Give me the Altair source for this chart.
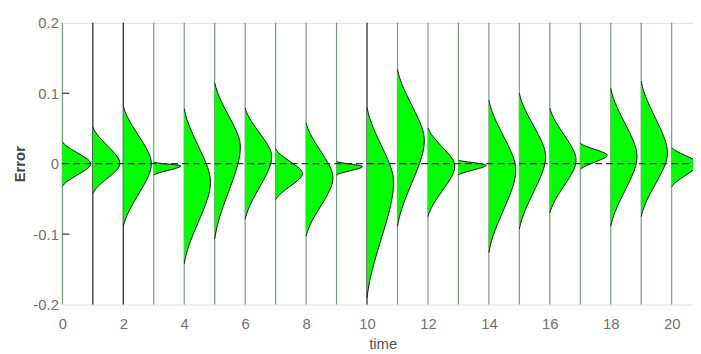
import altair as alt
import pandas as pd

# ---- data ----
times = list(range(21))
peak_err = [0.0, 0.0, 0.0, -0.003, -0.026, 0.024, 0.010, -0.014, -0.020, -0.004, -0.026,
            0.033, -0.003, -0.002, -0.009, 0.010, 0.005, 0.012, 0.010, 0.015, 0.0]
top_err = [0.031, 0.052, 0.082, 0.002, 0.078, 0.115, 0.079, 0.021, 0.058, 0.003, 0.080,
           0.134, 0.051, 0.005, 0.090, 0.100, 0.079, 0.029, 0.107, 0.117, 0.023]
bottom_err = [-0.032, -0.042, -0.089, -0.016, -0.142, -0.107, -0.079, -0.051, -0.103, -0.016, -0.190,
              -0.089, -0.075, -0.016, -0.126, -0.093, -0.070, -0.008, -0.089, -0.075, -0.033]
peak_width = [0.94, 0.90, 0.93, 0.90, 0.87, 0.85, 0.88, 0.89, 0.89, 0.86, 0.88,
              0.89, 0.89, 0.92, 0.89, 0.87, 0.87, 0.89, 0.87, 0.87, 0.88]
dark_lines = [1, 2, 10]

# common outline profile of one density (fraction of way from peak to tail, relative width)
profile_frac = [0.0, 0.1, 0.2, 0.35, 0.5, 0.65, 0.8, 0.9, 1.0]
profile_width = [1.0, 0.97, 0.89, 0.72, 0.52, 0.32, 0.15, 0.06, 0.0]

x_ticks = [0, 2, 4, 6, 8, 10, 12, 14, 16, 18, 20]
y_ticks = [-0.2, -0.1, 0.0, 0.1, 0.2]
x_max = 20.7

# ---- build tables ----
rows = []
k = 0
for i, t in enumerate(times):
    for f, w in zip(reversed(profile_frac), reversed(profile_width)):
        rows.append(dict(t=t, k=k, err=peak_err[i] + f * (bottom_err[i] - peak_err[i]),
                         xr=t + w * peak_width[i], x0=t))
        k += 1
    for f, w in zip(profile_frac[1:], profile_width[1:]):
        rows.append(dict(t=t, k=k, err=peak_err[i] + f * (top_err[i] - peak_err[i]),
                         xr=t + w * peak_width[i], x0=t))
        k += 1
shapes = pd.DataFrame(rows)

vlines = pd.DataFrame({
    "t": times,
    "lo": [-0.2] * len(times),
    "hi": [0.2] * len(times),
    "shade": ["dark" if t in dark_lines else "light" for t in times],
})
zero = pd.DataFrame({"a": [0.0], "b": [x_max], "e": [0.0]})
yt = pd.DataFrame({"e": [v for v in y_ticks if abs(v) < 0.2 and v != 0], "a": 0.0})

FONT = "Liberation Sans"
xscale = alt.Scale(domain=[0, x_max], nice=False, zero=False)
yscale = alt.Scale(domain=[-0.2, 0.2], nice=False, zero=False)
xaxis = alt.Axis(values=x_ticks, ticks=False, domain=False, grid=False, labelPadding=12,
                 labelFlush=False, labelFontSize=15, labelColor="#707070", labelFont=FONT,
                 title="time", titleX=324, titleY=44, titleBaseline="alphabetic",
                 titleFontWeight="normal", titleColor="#555555", titleFontSize=15, titleFont=FONT)
yaxis = alt.Axis(values=y_ticks, ticks=False, domain=False, grid=False, labelPadding=4,
                 labelFontSize=15, labelColor="#707070", labelFont=FONT,
                 labelExpr="datum.value == 0 ? '0' : (datum.value < 0 ? '-' + format(-datum.value, '.1f') : format(datum.value, '.1f'))",
                 title="Error", titleX=-38, titleY=142.5, titleBaseline="alphabetic",
                 titleFontWeight="bold", titleColor="#444444", titleFontSize=15, titleFont=FONT)


def X(f):
    return alt.X(f, type="quantitative", scale=xscale, axis=xaxis, stack=None)


def Y(f):
    return alt.Y(f, type="quantitative", scale=yscale, axis=yaxis, stack=None)


rules = alt.Chart(vlines).mark_rule(strokeWidth=1.2).encode(
    x=X("t"), y=Y("lo"), y2="hi",
    color=alt.Color("shade:N", scale=alt.Scale(domain=["light", "dark"], range=["#7d987d", "#1e1e1e"]), legend=None),
)

# each density drawn as a closed, filled outline (closing edge lies on the vertical line x = t)
shape = alt.Chart(shapes).mark_line(
    interpolate="basis", fill="#00ff00", stroke="#111111", strokeWidth=1
).encode(
    x=X("xr"), y=Y("err"), detail="t:N", order="k:Q"
)

zline = alt.Chart(zero).mark_rule(color="#333333", strokeWidth=1.2, strokeDash=[7, 4]).encode(
    x=X("a"), x2="b", y=Y("e")
)

ticks = alt.Chart(yt).mark_rule(color="#333333", strokeWidth=1.2).encode(
    x=alt.value(0), x2=alt.value(7), y=Y("e")
)

chart = alt.layer(rules, shape, zline, ticks).properties(
    width=638, height=285,
    autosize=alt.AutoSizeParams(type="none"),
    padding={"left": 55, "top": 13, "right": 0, "bottom": 48},
).configure_view(stroke="#999999", strokeWidth=1.6).configure(background="white")

chart.save("out.html", embed_options={"renderer": "svg", "actions": False})
